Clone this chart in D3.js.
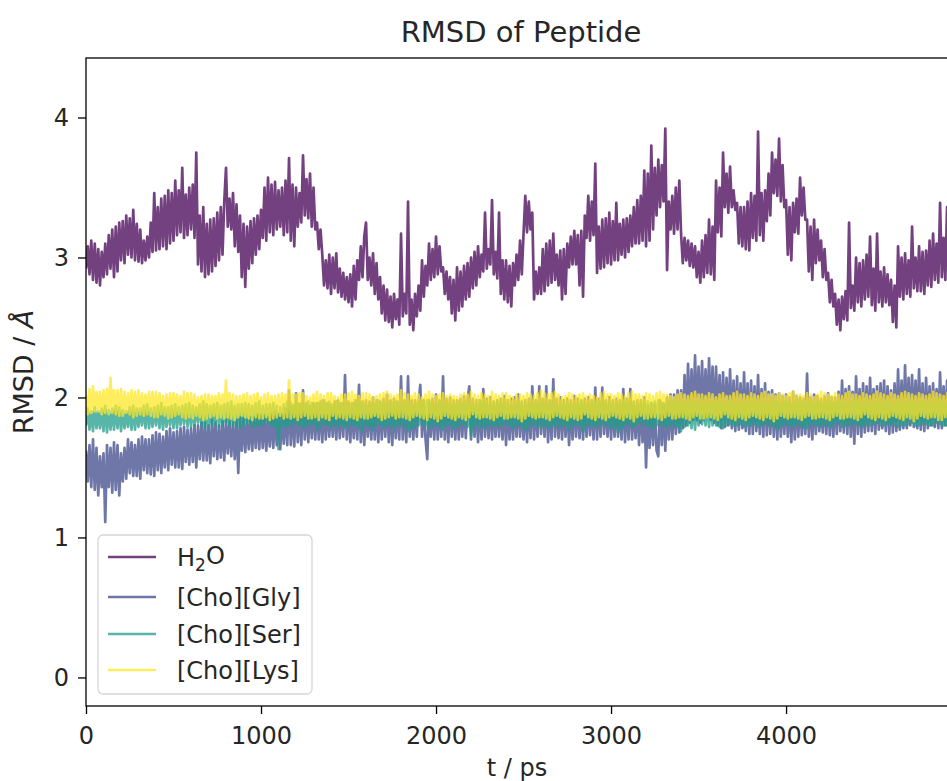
<!DOCTYPE html>
<html>
<head>
<meta charset="utf-8">
<script src="https://cdn.jsdelivr.net/npm/d3@7"></script>
<style>
  body { margin: 0; background: #fff; }
  svg text { font-family: "DejaVu Sans", sans-serif; fill: #262626; }
</style>
</head>
<body>
<svg id="chart" width="947" height="781"></svg>
<script>
// RMSD samples, one value every 10 ps (t = 0 .. 4990 ps)
const step = 10;

const h2o = [
  2.92,3.08,2.88,3.12,2.84,3.10,2.82,3.06,2.80,3.04,2.86,3.10,2.88,3.16,2.92,3.20,2.86,3.22,2.90,3.25,
  2.98,3.26,2.96,3.30,3.02,3.28,3.00,3.34,2.98,3.24,2.97,3.20,2.96,3.12,2.98,3.15,3.00,3.25,3.04,3.46,
  3.05,3.36,3.06,3.42,3.08,3.44,3.06,3.48,3.10,3.46,3.12,3.55,3.16,3.48,3.18,3.64,3.14,3.45,3.16,3.50,
  3.20,3.52,3.14,3.75,2.95,3.30,2.90,3.36,2.86,3.24,2.88,3.27,2.90,3.28,2.94,3.32,2.98,3.36,3.02,3.40,
  3.64,3.22,3.42,3.20,3.46,3.08,3.38,3.04,3.30,2.86,3.24,2.79,3.22,2.92,3.26,2.96,3.28,3.02,3.30,3.06,
  3.34,3.14,3.50,3.12,3.57,3.18,3.52,3.16,3.54,3.20,3.48,3.22,3.50,3.16,3.55,3.18,3.71,3.12,3.52,3.08,
  3.50,3.22,3.46,3.25,3.73,3.30,3.56,3.28,3.60,3.22,3.50,3.20,3.25,3.06,3.20,3.02,2.80,2.98,2.78,3.02,
  2.74,3.00,2.78,3.03,2.75,2.92,2.72,2.89,2.70,2.86,2.68,2.88,2.65,2.94,2.70,2.98,2.84,3.08,2.86,3.15,
  3.25,2.84,3.00,2.80,3.03,2.74,2.96,2.70,2.86,2.60,2.80,2.55,2.77,2.54,2.72,2.50,2.74,2.56,2.70,2.52,
  3.17,2.58,2.74,2.60,3.40,2.52,2.70,2.48,2.74,2.58,2.80,2.62,2.98,2.72,2.94,2.80,3.10,2.84,3.06,2.86,
  3.15,2.88,3.08,2.90,2.93,2.74,2.90,2.70,2.86,2.60,2.84,2.55,2.93,2.62,2.90,2.65,2.94,2.70,2.96,2.72,
  3.00,2.78,3.04,2.80,3.08,2.86,3.02,2.90,3.32,2.92,3.06,2.95,3.41,2.88,3.04,2.85,3.32,2.74,2.98,2.70,
  2.98,2.68,2.94,2.65,2.96,2.80,3.02,2.84,3.12,2.88,3.17,3.44,3.18,3.40,3.20,3.32,2.70,2.90,2.74,2.93,
  2.74,3.06,2.76,3.10,2.80,3.12,2.82,3.17,2.84,3.02,2.80,3.05,2.70,3.06,2.74,3.10,2.93,3.15,2.95,3.19,
  2.95,3.16,2.80,3.19,2.72,3.30,3.14,3.44,3.12,3.40,3.16,3.67,2.89,3.22,2.92,3.27,2.93,3.28,2.96,3.32,
  2.95,3.26,2.98,3.39,2.98,3.24,3.02,3.27,3.00,3.28,3.04,3.30,3.08,3.36,3.10,3.41,3.10,3.44,3.12,3.62,
  3.08,3.60,3.12,3.80,3.20,3.64,3.30,3.70,3.36,3.66,3.40,3.92,2.91,3.40,3.20,3.44,3.17,3.50,3.20,3.55,
  3.17,2.96,3.14,2.98,3.12,2.94,3.10,2.93,3.08,2.86,3.04,2.82,3.12,2.86,3.16,2.89,3.27,2.88,3.22,2.84,
  3.55,3.18,3.50,3.15,3.75,3.36,3.60,3.32,3.65,3.36,3.48,3.34,3.39,3.10,3.36,3.08,3.36,3.06,3.40,3.05,
  3.46,3.14,3.44,3.12,3.90,3.16,3.46,3.12,3.48,3.26,3.60,3.30,3.75,3.46,3.70,3.44,3.85,3.40,3.66,3.36,
  3.41,3.02,3.36,2.98,3.39,3.18,3.42,3.17,3.57,3.30,3.50,3.27,3.27,2.90,3.22,2.84,3.27,2.96,3.20,2.98,
  3.12,2.86,3.06,2.84,2.89,2.68,2.84,2.65,2.74,2.52,2.70,2.48,2.72,2.56,2.76,2.55,3.25,2.64,2.80,2.62,
  3.00,2.68,2.96,2.65,2.98,2.70,3.02,2.72,3.15,2.66,2.92,2.62,3.17,2.68,2.90,2.65,2.93,2.68,2.88,2.66,
  2.84,2.54,2.80,2.50,3.08,2.72,3.00,2.70,3.03,2.74,2.98,2.72,3.22,2.78,3.00,2.76,3.08,2.76,3.04,2.74,
  3.05,2.80,3.12,2.79,3.17,2.84,3.10,2.82,3.39,2.86,3.14,2.84,3.36,2.88,3.20,2.90,3.20,2.92,3.18,2.95
];

const choGly = [
  1.62,1.40,1.66,1.36,1.70,1.34,1.64,1.30,1.58,1.36,1.60,1.11,1.66,1.36,1.64,1.32,1.68,1.34,1.66,1.30,
  1.60,1.40,1.64,1.42,1.70,1.46,1.68,1.44,1.66,1.44,1.70,1.42,1.72,1.48,1.70,1.46,1.70,1.45,1.73,1.44,
  1.75,1.48,1.74,1.46,1.72,1.50,1.76,1.48,1.78,1.52,1.75,1.50,1.76,1.50,1.78,1.49,1.79,1.54,1.77,1.52,
  1.78,1.54,1.80,1.50,1.80,1.56,1.82,1.55,1.82,1.55,1.80,1.53,1.84,1.58,1.82,1.56,1.80,1.57,1.83,1.55,
  1.84,1.60,1.83,1.58,1.82,1.56,1.84,1.46,1.86,1.62,1.85,1.61,1.84,1.63,1.86,1.62,1.86,1.64,1.88,1.63,
  1.88,1.64,1.87,1.62,1.86,1.65,1.89,1.64,1.90,1.66,1.88,1.63,1.88,1.67,1.92,1.66,2.05,1.66,1.94,1.65,
  2.03,1.68,1.95,1.66,2.05,1.70,1.96,1.68,1.94,1.71,1.96,1.70,1.96,1.70,1.97,1.68,1.98,1.70,1.96,1.72,
  1.95,1.72,1.97,1.70,1.98,1.71,1.96,1.72,2.16,1.70,1.97,1.68,1.96,1.71,1.98,1.70,2.09,1.68,1.97,1.66,
  1.98,1.72,1.97,1.70,2.00,1.70,1.98,1.68,1.97,1.70,1.99,1.72,2.02,1.68,1.98,1.66,1.99,1.71,1.97,1.70,
  2.15,1.70,1.98,1.68,2.15,1.72,1.98,1.70,1.98,1.72,1.96,2.09,1.72,1.98,1.70,1.56,1.98,1.72,1.99,1.70,
  2.02,1.70,1.98,1.72,2.15,1.70,1.99,1.68,2.00,1.72,1.98,1.70,1.98,1.70,1.99,1.72,2.01,1.71,1.98,2.08,
  1.70,1.99,1.72,1.98,1.68,1.98,1.70,2.06,1.72,1.99,1.71,2.00,1.70,1.97,1.72,1.98,1.72,1.99,1.70,2.01,
  1.66,1.98,1.70,1.99,1.70,2.00,1.72,2.02,1.72,1.97,1.70,1.98,1.68,1.99,1.71,2.08,1.70,1.98,1.72,2.08,
  1.74,1.99,1.72,2.08,1.68,1.98,1.70,2.13,1.72,1.99,1.71,2.00,1.70,1.98,1.72,1.99,1.66,1.98,1.70,2.01,
  1.72,1.99,1.71,1.98,1.70,1.99,1.72,2.00,1.73,1.98,1.70,2.07,1.70,1.99,1.72,2.07,1.74,1.98,1.72,2.00,
  1.70,1.98,1.72,1.99,1.72,1.98,1.70,2.06,1.68,1.99,1.70,2.06,1.70,1.97,1.71,1.98,1.66,1.98,1.68,2.00,
  1.50,1.94,1.64,1.96,1.66,1.95,1.62,1.58,1.98,1.66,1.96,1.62,2.00,1.70,2.02,1.70,2.02,1.74,2.05,1.75,
  2.05,1.78,2.16,1.80,2.24,1.82,2.20,1.84,2.30,1.84,2.22,1.82,2.26,1.84,2.20,1.86,2.28,1.84,2.22,1.82,
  2.22,1.80,2.16,1.78,2.18,1.79,2.14,1.80,2.20,1.78,2.12,1.76,2.15,1.77,2.10,1.78,2.18,1.76,2.10,1.74,
  2.12,1.74,2.08,1.76,2.16,1.74,2.06,1.72,2.10,1.73,2.04,1.74,2.05,1.72,2.02,1.70,2.03,1.72,2.01,1.74,
  2.02,1.72,2.00,1.68,2.04,1.70,2.01,1.72,2.00,1.73,1.99,1.74,2.17,1.72,2.00,1.70,2.02,1.74,2.01,1.76,
  1.99,1.75,2.01,1.74,2.03,1.73,2.00,1.72,2.00,1.74,2.04,1.76,2.12,1.75,2.06,1.74,2.08,1.72,2.04,1.67,
  2.15,1.74,2.06,1.72,2.10,1.75,2.08,1.76,2.14,1.76,2.06,1.74,2.08,1.77,2.10,1.78,2.12,1.76,2.08,1.74,
  2.05,1.75,2.10,1.76,2.20,1.77,2.12,1.78,2.23,1.78,2.14,1.80,2.16,1.79,2.12,1.78,2.20,1.77,2.10,1.76,
  2.14,1.78,2.08,1.80,2.10,1.79,2.06,1.78,2.18,1.78,2.08,1.80,2.12,1.79,2.08,1.78,2.15,1.79,2.10,1.80
];

const choSer = [
  1.80,1.92,1.77,1.90,1.76,1.93,1.78,1.90,1.78,1.92,1.76,1.94,1.75,1.91,1.77,1.92,1.77,1.94,1.78,1.93,
  1.76,1.91,1.78,1.90,1.79,1.93,1.77,1.94,1.77,1.92,1.79,1.92,1.80,1.94,1.78,1.95,1.78,1.92,1.79,1.93,
  1.80,1.94,1.78,1.96,1.77,1.93,1.79,1.93,1.80,1.94,1.78,1.95,1.78,1.93,1.80,1.94,1.81,1.95,1.79,1.96,
  1.79,1.94,1.80,1.93,1.82,1.95,1.80,1.97,1.78,1.95,1.79,1.94,1.80,1.95,1.81,1.96,1.79,1.94,1.80,1.95,
  1.82,1.96,1.80,1.97,1.80,1.94,1.79,1.95,1.78,1.95,1.80,1.96,1.81,1.95,1.80,1.94,1.79,1.96,1.80,1.97,
  1.80,1.94,1.81,1.95,1.82,1.95,1.80,1.96,1.79,1.94,1.63,1.93,1.80,1.95,1.79,1.97,1.80,1.96,1.79,1.95,
  1.82,1.96,1.80,1.96,1.78,1.95,1.79,1.97,1.80,1.96,1.81,1.95,1.77,1.96,1.79,1.98,1.81,1.96,1.80,1.97,
  1.79,1.94,1.80,1.97,1.79,1.96,1.80,1.96,1.78,1.95,1.79,1.95,1.80,1.96,1.80,1.97,1.78,1.96,1.76,1.95,
  1.80,1.94,1.79,1.96,1.77,1.95,1.80,1.98,1.81,1.96,1.79,1.95,1.80,1.97,1.79,1.96,1.78,1.97,1.80,1.96,
  1.80,1.95,1.79,1.97,1.76,1.95,1.78,1.94,1.79,1.96,1.80,1.96,1.81,1.97,1.80,1.98,1.78,1.96,1.79,1.95,
  1.80,1.95,1.79,1.97,1.77,1.96,1.80,1.96,1.80,1.94,1.78,1.95,1.79,1.97,1.80,1.96,1.81,1.97,1.79,1.95,
  1.73,1.95,1.78,1.96,1.80,1.97,1.79,1.98,1.78,1.96,1.80,1.95,1.79,1.96,1.80,1.97,1.79,1.96,1.80,1.97,
  1.81,1.96,1.80,1.94,1.78,1.96,1.79,1.97,1.80,1.96,1.78,1.95,1.77,1.96,1.80,1.98,1.81,1.96,1.79,1.95,
  1.79,1.96,1.80,1.95,1.78,1.96,1.79,1.97,1.80,1.95,1.79,1.94,1.79,1.96,1.80,1.97,1.77,1.96,1.79,1.95,
  1.81,1.96,1.80,1.98,1.76,1.96,1.79,1.95,1.80,1.97,1.80,1.96,1.79,1.97,1.80,1.98,1.81,1.96,1.80,1.97,
  1.78,1.95,1.79,1.97,1.75,1.96,1.78,1.96,1.80,1.97,1.80,1.98,1.79,1.96,1.80,1.95,1.82,1.96,1.80,1.97,
  1.80,1.97,1.79,1.96,1.78,1.97,1.80,1.98,1.81,1.96,1.80,1.95,1.79,1.97,1.80,1.97,1.80,1.96,1.79,1.98,
  1.76,1.95,1.79,1.97,1.80,1.96,1.78,1.96,1.77,1.97,1.80,1.98,1.81,1.96,1.80,1.95,1.79,1.97,1.80,1.96,
  1.80,1.97,1.79,1.96,1.78,1.97,1.80,1.98,1.81,1.96,1.80,1.95,1.80,1.96,1.81,1.97,1.79,1.96,1.80,1.97,
  1.80,1.96,1.81,1.97,1.79,1.96,1.80,1.95,1.81,1.97,1.80,1.98,1.80,1.96,1.79,1.97,1.78,1.96,1.80,1.97,
  1.81,1.97,1.80,1.95,1.79,1.96,1.80,1.98,1.80,1.97,1.79,1.96,1.78,1.97,1.80,1.97,1.81,1.96,1.80,1.97,
  1.79,1.95,1.80,1.98,1.80,1.97,1.79,1.96,1.82,1.97,1.81,1.97,1.79,1.96,1.80,1.95,1.80,1.97,1.81,1.96,
  1.81,1.98,1.80,1.96,1.79,1.97,1.80,1.97,1.80,1.95,1.81,1.96,1.82,1.98,1.80,1.97,1.80,1.98,1.81,1.96,
  1.81,1.96,1.80,1.97,1.79,1.96,1.80,1.95,1.80,1.97,1.81,1.98,1.82,1.96,1.80,1.97,1.80,1.96,1.81,1.97,
  1.81,1.97,1.80,1.95,1.80,1.96,1.82,1.98,1.81,1.97,1.80,1.96,1.80,1.97,1.81,1.96,1.80,1.97,1.81,1.96
];

const choLys = [
  2.02,1.88,2.06,1.89,2.08,1.90,2.04,1.90,2.04,1.88,2.05,1.89,2.06,1.88,2.14,1.89,2.05,1.88,2.05,1.87,
  2.06,1.87,2.04,1.89,2.03,1.88,2.05,1.86,2.04,1.87,2.05,1.88,2.03,1.87,2.02,1.88,2.04,1.87,2.04,1.86,
  2.04,1.86,2.03,1.88,2.01,1.87,2.02,1.85,2.03,1.86,2.03,1.87,2.02,1.88,2.01,1.86,2.04,1.85,2.03,1.86,
  2.03,1.85,2.02,1.87,2.00,1.86,2.01,1.84,2.02,1.85,2.02,1.86,2.01,1.87,2.01,1.85,2.03,1.86,2.02,1.85,
  2.12,1.86,2.03,1.85,2.02,1.84,2.01,1.86,2.01,1.87,2.02,1.86,2.03,1.85,2.01,1.84,2.02,1.86,2.03,1.85,
  2.00,1.85,2.02,1.86,2.03,1.84,2.01,1.85,2.01,1.86,2.02,1.87,2.03,1.85,2.02,1.86,2.12,1.85,2.02,1.86,
  2.02,1.84,2.03,1.86,2.03,1.87,2.01,1.85,2.00,1.85,2.02,1.86,2.04,1.84,2.02,1.86,2.01,1.85,2.03,1.84,
  2.03,1.87,2.01,1.85,2.00,1.86,2.02,1.85,2.02,1.84,2.03,1.86,2.04,1.85,2.02,1.84,2.01,1.86,2.03,1.85,
  2.03,1.85,2.02,1.86,2.00,1.87,2.01,1.86,2.02,1.84,2.03,1.85,2.04,1.86,2.02,1.87,2.01,1.85,2.02,1.86,
  2.05,1.86,2.03,1.85,2.02,1.84,2.01,1.86,2.03,1.87,2.02,1.86,2.00,1.85,2.02,1.84,2.04,1.86,2.02,1.85,
  2.01,1.83,2.02,1.85,2.03,1.87,2.01,1.86,2.02,1.85,2.01,1.84,2.00,1.86,2.02,1.85,2.03,1.84,2.02,1.86,
  2.04,1.88,2.02,1.86,2.01,1.85,2.03,1.86,2.02,1.86,2.01,1.85,2.04,1.84,2.02,1.86,2.01,1.87,2.03,1.85,
  2.03,1.85,2.01,1.86,2.00,1.86,2.02,1.85,2.02,1.83,2.01,1.85,2.03,1.87,2.02,1.86,2.01,1.85,2.03,1.86,
  2.05,1.86,2.03,1.85,2.02,1.84,2.03,1.86,2.04,1.87,2.02,1.86,2.00,1.85,2.01,1.84,2.03,1.86,2.02,1.85,
  2.01,1.84,2.02,1.85,2.03,1.88,2.01,1.86,2.02,1.85,2.01,1.84,2.00,1.86,2.03,1.85,2.04,1.84,2.02,1.86,
  2.02,1.87,2.01,1.86,2.03,1.85,2.02,1.84,2.01,1.86,2.03,1.85,2.04,1.83,2.02,1.86,2.02,1.87,2.01,1.85,
  2.03,1.85,2.02,1.86,2.01,1.86,2.03,1.85,2.04,1.84,2.02,1.86,2.02,1.87,2.01,1.85,2.00,1.85,2.02,1.86,
  2.03,1.86,2.02,1.85,2.01,1.84,2.03,1.86,2.04,1.87,2.02,1.85,2.02,1.85,2.01,1.86,2.03,1.86,2.02,1.85,
  2.00,1.84,2.02,1.86,2.03,1.88,2.01,1.86,2.01,1.85,2.03,1.84,2.04,1.86,2.02,1.85,2.02,1.84,2.01,1.86,
  2.03,1.87,2.02,1.86,2.01,1.85,2.03,1.84,2.04,1.86,2.02,1.85,2.02,1.83,2.01,1.85,2.03,1.87,2.02,1.86,
  2.01,1.85,2.03,1.86,2.04,1.86,2.02,1.85,2.02,1.84,2.01,1.86,2.03,1.87,2.02,1.85,2.00,1.85,2.02,1.86,
  2.04,1.86,2.03,1.85,2.02,1.84,2.01,1.86,2.03,1.87,2.02,1.85,2.01,1.85,2.03,1.86,2.04,1.86,2.02,1.85,
  2.02,1.84,2.01,1.86,2.03,1.88,2.02,1.86,2.01,1.85,2.02,1.84,2.04,1.86,2.03,1.85,2.02,1.84,2.01,1.86,
  2.03,1.87,2.02,1.86,2.01,1.85,2.03,1.84,2.04,1.86,2.03,1.85,2.02,1.83,2.01,1.85,2.03,1.87,2.02,1.86,
  2.01,1.85,2.02,1.86,2.04,1.86,2.03,1.84,2.02,1.84,2.01,1.86,2.03,1.87,2.02,1.85,2.01,1.85,2.02,1.86
];

const seriesNames = ["H2O", "[Cho][Gly]", "[Cho][Ser]", "[Cho][Lys]"];
const seriesColors = ["#440154", "#3e4a89", "#1f9e89", "#fde725"];
const seriesData = [h2o, choGly, choSer, choLys];

const xTicks = [0, 1000, 2000, 3000, 4000];
const yTicks = [0, 1, 2, 3, 4];

const svg = d3.select("#chart");
const plotLeft = 86, plotRight = 956, plotTop = 58, plotBottom = 706;

const x = d3.scaleLinear().domain([0, 4971]).range([plotLeft, plotRight]);
const y = d3.scaleLinear().domain([-0.204, 4.425]).range([plotBottom, plotTop]);

svg.append("clipPath").attr("id", "plotclip")
  .append("rect")
  .attr("x", plotLeft).attr("y", plotTop)
  .attr("width", plotRight - plotLeft).attr("height", plotBottom - plotTop);

const line = d3.line()
  .x((d, i) => x(i * step))
  .y(d => y(d));

const plot = svg.append("g").attr("clip-path", "url(#plotclip)");
seriesData.forEach((vals, k) => {
  plot.append("path")
    .datum(vals)
    .attr("d", line)
    .attr("fill", "none")
    .attr("stroke", seriesColors[k])
    .attr("stroke-opacity", 0.75)
    .attr("stroke-width", 2.7)
    .attr("stroke-linejoin", "round");
});

// axes
const xAxis = svg.append("g")
  .attr("transform", `translate(0,${plotBottom})`)
  .call(d3.axisBottom(x).tickValues(xTicks).tickFormat(d3.format("d"))
    .tickSize(8).tickSizeOuter(0).tickPadding(13));
const yAxis = svg.append("g")
  .attr("transform", `translate(${plotLeft},0)`)
  .call(d3.axisLeft(y).tickValues(yTicks).tickFormat(d3.format("d"))
    .tickSize(8).tickSizeOuter(0).tickPadding(9));

[xAxis, yAxis].forEach(g => {
  g.select(".domain").remove();
  g.selectAll(".tick line").attr("stroke", "#000").attr("stroke-width", 1.3);
  g.selectAll(".tick text")
    .attr("font-size", 24)
    .attr("font-family", "DejaVu Sans")
    .attr("fill", "#262626");
});

// spines
svg.append("rect")
  .attr("x", plotLeft).attr("y", plotTop)
  .attr("width", plotRight - plotLeft).attr("height", plotBottom - plotTop)
  .attr("fill", "none")
  .attr("stroke", "#000")
  .attr("stroke-width", 1.3);

// title and axis labels
svg.append("text")
  .attr("x", 521).attr("y", 42)
  .attr("text-anchor", "middle")
  .attr("font-size", 29)
  .text("RMSD of Peptide");

svg.append("text")
  .attr("x", 517).attr("y", 776)
  .attr("text-anchor", "middle")
  .attr("font-size", 24)
  .text("t / ps");

const yl = svg.append("text")
  .attr("transform", "translate(33,372) rotate(-90)")
  .attr("text-anchor", "middle")
  .attr("font-size", 27);
yl.append("tspan").text("RMSD / ");
yl.append("tspan").attr("font-style", "italic").text("Å");

// legend
const legend = svg.append("g");
legend.append("rect")
  .attr("x", 98).attr("y", 535)
  .attr("width", 214).attr("height", 159)
  .attr("rx", 5)
  .attr("fill", "#fff").attr("fill-opacity", 0.8)
  .attr("stroke", "#d6d6d6").attr("stroke-width", 1.3);

const rowY = [557, 597, 634, 670];
seriesNames.forEach((name, k) => {
  const g = legend.append("g").attr("transform", `translate(0,${rowY[k]})`);
  g.append("line")
    .attr("x1", 108).attr("x2", 156)
    .attr("stroke", seriesColors[k])
    .attr("stroke-opacity", 0.75)
    .attr("stroke-width", 2.3);
  const t = g.append("text")
    .attr("x", 177).attr("dy", "0.36em")
    .attr("font-size", 24);
  if (name === "H2O") {
    t.append("tspan").text("H");
    t.append("tspan").attr("font-size", 17).attr("dy", "0.3em").text("2");
    t.append("tspan").attr("dy", "-0.3em").text("O");
  } else {
    t.text(name);
  }
});
</script>
</body>
</html>
